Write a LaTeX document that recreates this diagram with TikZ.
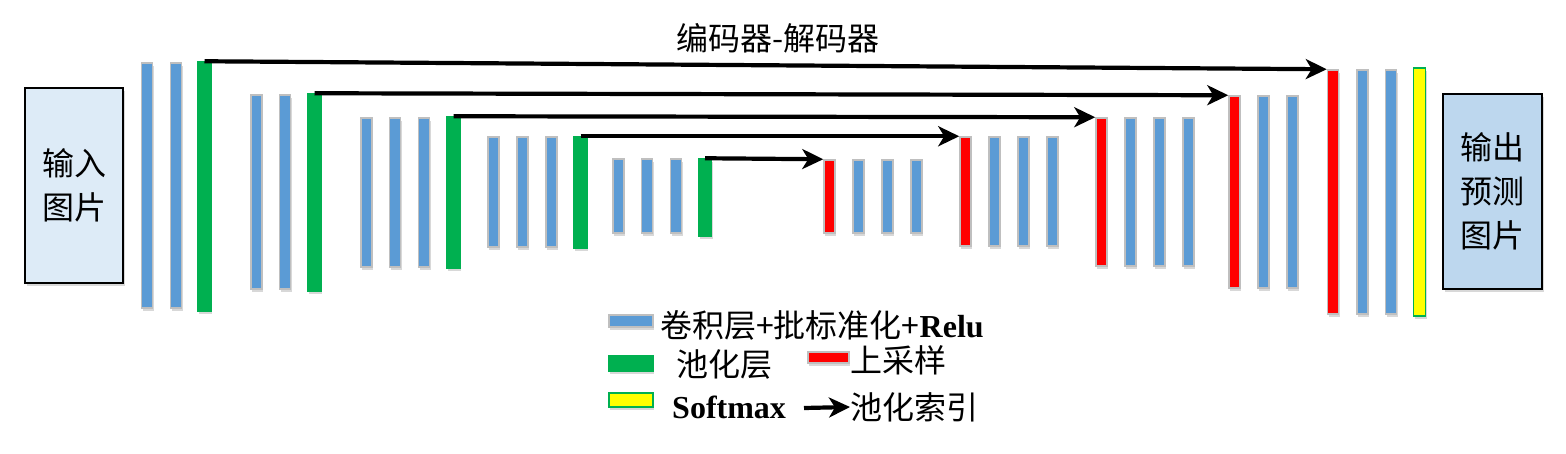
\documentclass[tikz,border=0pt]{standalone}
\usepackage{fontspec}
\setmainfont{Liberation Serif}
\newfontfamily\cjk{Noto Sans CJK SC}
\usetikzlibrary{arrows.meta,shadows}
\definecolor{cblue}{HTML}{5B9BD5}
\definecolor{cgreen}{HTML}{00B050}
\definecolor{cred}{HTML}{FF0000}
\definecolor{cyellow}{HTML}{FFFF00}
\definecolor{lgray}{HTML}{BFBFBF}
\definecolor{inblue}{HTML}{DDEBF7}
\definecolor{outblue}{HTML}{BDD7EE}
\tikzset{
  lyr/.style={rectangle, inner sep=0pt, draw=lgray, line width=1.5pt, minimum width=11pt,
    drop shadow={shadow xshift=1pt, shadow yshift=-3pt, opacity=0.3, fill=gray}},
  bl/.style={lyr, fill=cblue},
  gr/.style={lyr, fill=cgreen, draw=cgreen, minimum width=13pt},
  rd/.style={lyr, fill=cred},
  yl/.style={lyr, fill=cyellow, draw=cgreen, minimum width=12pt},
  arr/.style={line width=4.2pt, -{Stealth[length=21pt,width=20pt,inset=6pt]}},
  imgbox/.style={rectangle, draw=black, line width=2.5pt, inner sep=0pt, align=center,
    font=\cjk\fontsize{32}{44}\selectfont,
    drop shadow={shadow xshift=2pt, shadow yshift=-3pt, opacity=0.3, fill=gray}},
  cjktxt/.style={inner sep=0pt, font=\cjk\fontsize{32}{38}\selectfont},
  lattxt/.style={inner sep=0pt, font=\bfseries\fontsize{32}{38}\selectfont}
}
\newcommand\layerbar[5]{\node[#1, minimum height={#5-#4}] (#2) at (#3,{(#4+#5)/2}) {};}
\begin{document}
\begin{tikzpicture}[x=1pt,y=-1pt]
\useasboundingbox[fill=white] (0,0) rectangle (1566,453);

% input / output images
\node[imgbox, fill=inblue, minimum width=98, minimum height=195] (in) at (74,185.5) {输入\\图片};
\node[imgbox, fill=outblue, minimum width=99, minimum height=195] (out) at (1492.5,191.5) {输出\\预测\\图片};

% encoder
\layerbar{bl}{a1}{147}{63}{308}
\layerbar{bl}{a2}{176}{63}{308}
\layerbar{gr}{g1}{204.5}{62}{311}

\layerbar{bl}{b1}{256.5}{95}{289}
\layerbar{bl}{b2}{285}{95}{289}
\layerbar{gr}{g2}{314.5}{94}{291}

\layerbar{bl}{c1}{366.5}{118}{267}
\layerbar{bl}{c2}{395}{118}{267}
\layerbar{bl}{c3}{424}{118}{267}
\layerbar{gr}{g3}{453.5}{117}{268}

\layerbar{bl}{d1}{493.5}{137}{247}
\layerbar{bl}{d2}{522.5}{137}{247}
\layerbar{bl}{d3}{551.5}{137}{247}
\layerbar{gr}{g4}{580.5}{137}{248}

\layerbar{bl}{e1}{618.5}{159}{233}
\layerbar{bl}{e2}{647}{159}{233}
\layerbar{bl}{e3}{676}{159}{233}
\layerbar{gr}{g5}{705}{159}{236}

% decoder
\layerbar{rd}{r6}{829.5}{160}{233}
\layerbar{bl}{f1}{858.5}{160}{233}
\layerbar{bl}{f2}{887.5}{160}{233}
\layerbar{bl}{f3}{916.5}{160}{233}

\layerbar{rd}{r7}{965.5}{137}{246}
\layerbar{bl}{h1}{994.5}{137}{246}
\layerbar{bl}{h2}{1023.5}{137}{246}
\layerbar{bl}{h3}{1052.5}{137}{246}

\layerbar{rd}{r8}{1101.5}{118}{266}
\layerbar{bl}{i1}{1130.5}{118}{266}
\layerbar{bl}{i2}{1159.5}{118}{266}
\layerbar{bl}{i3}{1188.5}{118}{266}

\layerbar{rd}{r9}{1234.5}{96}{288}
\layerbar{bl}{j1}{1263.5}{96}{288}
\layerbar{bl}{j2}{1292.5}{96}{288}

\layerbar{rd}{r10}{1333}{70}{314}
\layerbar{bl}{k1}{1362.5}{70}{314}
\layerbar{bl}{k2}{1391}{70}{314}
\layerbar{yl}{sm}{1419.5}{68}{316}

% pooling index arrows
\draw[arr] (g1.north) -- (r10.north west);
\draw[arr] (g2.north) -- (r9.north west);
\draw[arr] (g3.north) -- (r8.north west);
\draw[arr] (g4.north) -- (r7.north west);
\draw[arr] (g5.north) -- (r6.north west);

% title
\node[cjktxt] (title) at (778,38) {编码器-解码器};

% legend
\node[bl, minimum width=44, minimum height=12] (sw1) at (631,321) {};
\node[cjktxt, anchor=west] (l1) at (660,325) {卷积层+批标准化+{\bfseries\rmfamily Relu}};
\node[gr, minimum width=44, minimum height=15] (sw2) at (631,363.5) {};
\node[cjktxt, anchor=west] (l2) at (676,364) {池化层};
\node[rd, minimum width=41, minimum height=11] (sw3) at (828.5,357.5) {};
\node[cjktxt, anchor=west] (l3) at (850,360) {上采样};
\node[yl, minimum width=44, minimum height=14] (sw4) at (631,400) {};
\node[lattxt, anchor=west] (l4) at (672,407) {Softmax};
\coordinate (la) at (804,408);
\node[cjktxt, anchor=west] (l5) at (850,407) {池化索引};
\draw[arr] (la) -- (l5.west);
\end{tikzpicture}
\end{document}
